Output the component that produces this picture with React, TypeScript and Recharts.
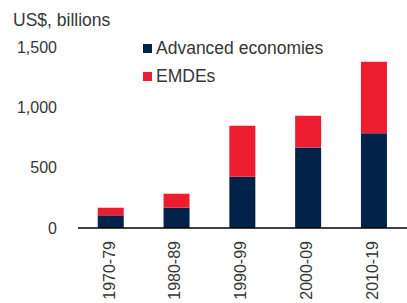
import { Bar, BarChart, Legend, XAxis, YAxis } from "recharts";

const periods = ["1970-79", "1980-89", "1990-99", "2000-09", "2010-19"];
const advanced = [105, 168, 425, 668, 785];
const emdes = [63, 116, 423, 262, 593];
const yTicks = [0, 500, 1000, 1500];

const seriesNames = ["Advanced economies", "EMDEs"];
const NAVY = "#02224a";
const RED = "#ed1c2e";
const TEXT = "#363636";
const FONT = "'Liberation Sans', Arial, sans-serif";

const data = periods.map((period, i) => ({
    period,
    advanced: advanced[i],
    emdes: emdes[i]
}));

function PeriodTick({ x, y, payload }: any) {
    return (
        <text
            transform={`translate(${x - 2},${y + 5}) rotate(-90)`}
            textAnchor="end"
            dy="0.35em"
            fill={TEXT}
            fontSize={16}
            fontFamily={FONT}
        >
            {payload.value}
        </text>
    );
}

function renderLegend() {
    const colors = [NAVY, RED];
    return (
        <div style={{ fontFamily: FONT, fontSize: 17.5, color: TEXT }}>
            {seriesNames.map((name, i) => (
                <div key={name} style={{ display: "flex", alignItems: "center", height: 28 }}>
                    <span style={{ width: 9, height: 9, background: colors[i], marginRight: 4 }} />
                    <span>{name}</span>
                </div>
            ))}
        </div>
    );
}

export default function App() {
    return (
        <div style={{ position: "absolute", left: 0, top: 0, width: 407, height: 303, background: "#fff" }}>
            <div
                style={{
                    position: "absolute",
                    left: 13,
                    top: 12,
                    fontFamily: FONT,
                    fontSize: 17.5,
                    lineHeight: "17px",
                    color: TEXT
                }}
            >
                US$, billions
            </div>
            <BarChart
                width={407}
                height={303}
                data={data}
                margin={{ top: 47, right: 0, bottom: 0, left: 0 }}
                barCategoryGap="30%"
            >
                <XAxis
                    dataKey="period"
                    height={75}
                    tickLine={false}
                    axisLine={{ stroke: "#000", strokeWidth: 1.5 }}
                    tick={<PeriodTick />}
                    interval={0}
                />
                <YAxis
                    width={78}
                    domain={[0, 1500]}
                    ticks={yTicks}
                    axisLine={false}
                    tickLine={false}
                    tickSize={0}
                    tickMargin={21}
                    tickFormatter={(v: number) => v.toLocaleString("en-US")}
                    tick={{ fill: TEXT, fontSize: 16, fontFamily: FONT }}
                />
                <Legend
                    layout="horizontal"
                    verticalAlign="middle"
                    align="center"
                    wrapperStyle={{ left: 143, top: 34, width: 230 }}
                    content={renderLegend}
                />
                <Bar dataKey="advanced" name={seriesNames[0]} stackId="a" fill={NAVY} isAnimationActive={false} />
                <Bar dataKey="emdes" name={seriesNames[1]} stackId="a" fill={RED} isAnimationActive={false} />
            </BarChart>
        </div>
    );
}
